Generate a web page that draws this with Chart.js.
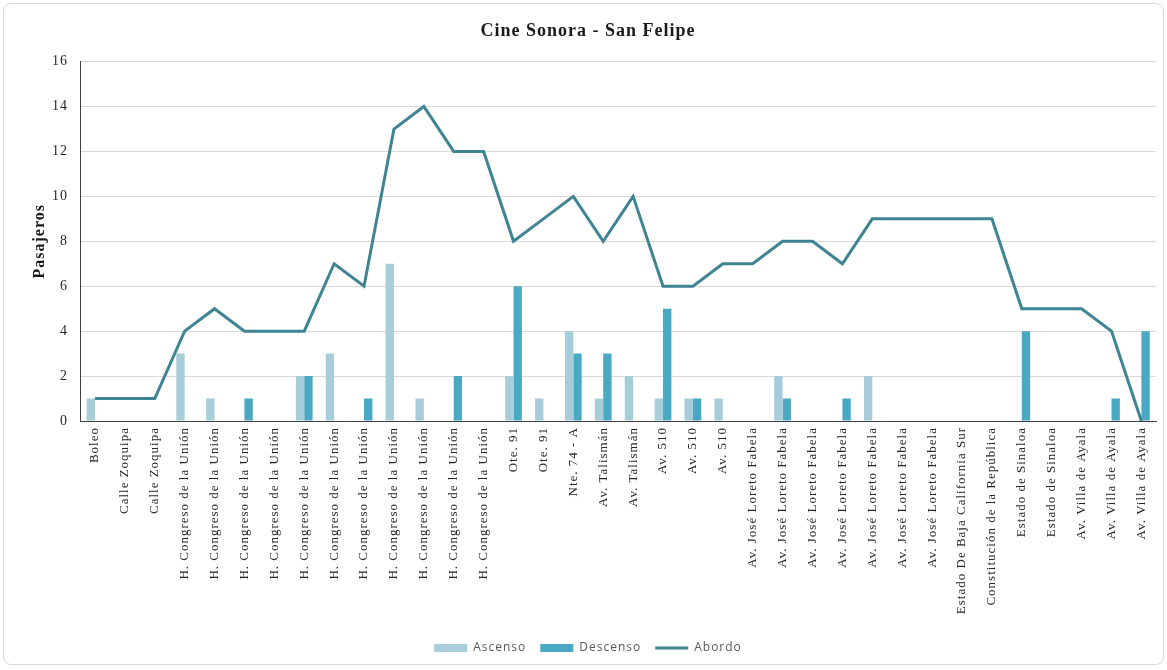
<!DOCTYPE html>
<html>
<head>
<meta charset="utf-8">
<script src="https://cdn.jsdelivr.net/npm/chart.js@4"></script>
<style>
  html, body { margin: 0; padding: 0; background: #fff; }
  #frame {
    position: absolute; left: 3px; top: 3px;
    width: 1161px; height: 662px;
    box-sizing: border-box;
    border: 1px solid #d9d9d9; border-radius: 8px;
  }
  #chart { display: block; }
</style>
</head>
<body>
<div id="frame"><canvas id="chart" width="1159" height="660"></canvas></div>
<script>
'use strict';

const stops = [
  'Boleo', 'Calle Zoquipa', 'Calle Zoquipa',
  'H. Congreso de la Unión', 'H. Congreso de la Unión', 'H. Congreso de la Unión',
  'H. Congreso de la Unión', 'H. Congreso de la Unión', 'H. Congreso de la Unión',
  'H. Congreso de la Unión', 'H. Congreso de la Unión', 'H. Congreso de la Unión',
  'H. Congreso de la Unión', 'H. Congreso de la Unión',
  'Ote. 91', 'Ote. 91', 'Nte. 74 - A', 'Av. Talismán', 'Av. Talismán',
  'Av. 510', 'Av. 510', 'Av. 510',
  'Av. José Loreto Fabela', 'Av. José Loreto Fabela', 'Av. José Loreto Fabela',
  'Av. José Loreto Fabela', 'Av. José Loreto Fabela', 'Av. José Loreto Fabela',
  'Av. José Loreto Fabela',
  'Estado De Baja California Sur', 'Constitución de la República',
  'Estado de Sinaloa', 'Estado de Sinaloa',
  'Av. Villa de Ayala', 'Av. Villa de Ayala', 'Av. Villa de Ayala',
];

const ascenso  = [1, 0, 0, 3, 1, 0, 0, 2, 3, 0, 7, 1, 0, 0, 2, 1, 4, 1, 2, 1, 1, 1, 0, 2, 0, 0, 2, 0, 0, 0, 0, 0, 0, 0, 0, 0];
const descenso = [0, 0, 0, 0, 0, 1, 0, 2, 0, 1, 0, 0, 2, 0, 6, 0, 3, 3, 0, 5, 1, 0, 0, 1, 0, 1, 0, 0, 0, 0, 0, 4, 0, 0, 1, 4];
const abordo   = [1, 1, 1, 4, 5, 4, 4, 4, 7, 6, 13, 14, 12, 12, 8, 9, 10, 8, 10, 6, 6, 7, 7, 8, 8, 7, 9, 9, 9, 9, 9, 5, 5, 5, 4, 0];

const yTicks = [0, 2, 4, 6, 8, 10, 12, 14, 16];

const serif = "'Liberation Serif', 'Times New Roman', serif";

// the exported chart spreads its letters a little
const spacing = {
  id: 'spacing',
  beforeUpdate(chart) { chart.ctx.letterSpacing = '1px'; },
  beforeDraw(chart) { chart.ctx.letterSpacing = '1px'; },
};

new Chart(document.getElementById('chart').getContext('2d'), {
  data: {
    labels: stops,
    datasets: [
      { type: 'line', label: 'Abordo', data: abordo, borderColor: '#3e8492', backgroundColor: '#3e8492',
        borderWidth: 3, pointRadius: 0, tension: 0, order: 0 },
      { type: 'bar', label: 'Ascenso', data: ascenso, backgroundColor: '#a6cdd9',
        barPercentage: 1, categoryPercentage: 0.56, order: 1 },
      { type: 'bar', label: 'Descenso', data: descenso, backgroundColor: '#4aa9c2',
        barPercentage: 1, categoryPercentage: 0.56, order: 1 },
    ],
  },
  plugins: [spacing],
  options: {
    responsive: false,
    animation: false,
    layout: { padding: { left: 10, right: 1, top: 0, bottom: 0 } },
    plugins: {
      title: {
        display: true, text: 'Cine Sonora - San Felipe', color: '#1a1a1a',
        font: { family: serif, size: 18, weight: 'bold' },
        padding: { top: 17, bottom: 19 },
      },
      legend: {
        position: 'bottom',
        labels: {
          color: '#595959', font: { family: "'Open Sans', sans-serif", size: 12 },
          usePointStyle: true, pointStyleWidth: 33, boxHeight: 8, padding: 14,
          sort: (a, b) => [1, 2, 0].indexOf(a.datasetIndex) - [1, 2, 0].indexOf(b.datasetIndex),
          generateLabels(chart) {
            const items = Chart.defaults.plugins.legend.labels.generateLabels(chart);
            items.forEach((it) => { it.pointStyle = it.datasetIndex === 0 ? 'line' : 'rect'; });
            return items;
          },
        },
      },
      tooltip: { enabled: false },
    },
    scales: {
      x: {
        grid: { display: false, drawTicks: false },
        border: { color: '#404040', width: 1 },
        ticks: { autoSkip: false, maxRotation: 90, minRotation: 90, padding: 6, color: '#262626',
          font: { family: serif, size: 13 } },
        afterFit(scale) { scale.height = 207; },
      },
      y: {
        min: 0, max: 16,
        afterBuildTicks(scale) { scale.ticks = yTicks.map((v) => ({ value: v })); },
        grid: { color: '#d9d9d9', drawTicks: false },
        border: { color: '#404040', width: 1 },
        ticks: { padding: 12, color: '#262626', font: { family: serif, size: 14 } },
        title: { display: true, text: 'Pasajeros', color: '#1a1a1a',
          font: { family: serif, size: 16, weight: 'bold' }, padding: { top: 16, bottom: 0 } },
        afterFit(scale) { scale.width = 66; },
      },
    },
  },
});
</script>
</body>
</html>
